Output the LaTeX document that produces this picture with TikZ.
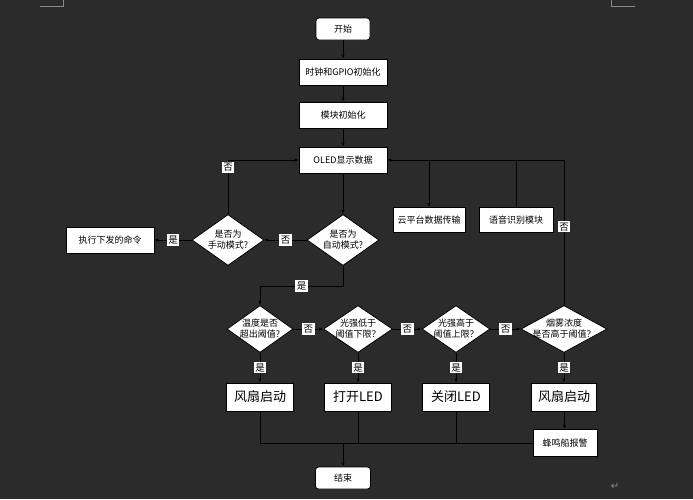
\documentclass[tikz,border=0pt]{standalone}
\usepackage{fontspec}
\setmainfont{Noto Sans CJK SC}
\newfontfamily\symfont{DejaVu Sans}
\usepackage{tikz}
\usetikzlibrary{shapes.geometric}
\usetikzlibrary{arrows.meta}
\usepackage{xcolor}
\definecolor{pagebg}{HTML}{2B2B2B}
\definecolor{markgray}{HTML}{8C8C8C}

\begin{document}
\begin{tikzpicture}[x=1pt,y=-1pt,
    every node/.style={font=\fontsize{9}{11}\selectfont},
    box/.style={draw=black, fill=white, line width=0.8pt, minimum width=88pt, minimum height=26pt, inner sep=1pt},
    term/.style={box, rounded corners=3pt, minimum width=54pt, minimum height=22pt},
    act/.style={box, minimum width=67pt, minimum height=28pt, font=\fontsize{13}{15}\selectfont},
    dia/.style={diamond, draw=black, fill=white, line width=0.8pt, inner sep=0pt},
    yn/.style={fill=white, inner sep=1.5pt, font=\fontsize{9.5}{10}\selectfont},
    flow/.style={draw=black, line width=0.8pt},
    >={Latex[length=4pt,width=3.5pt]}]
    \useasboundingbox (0,0) rectangle (693,499);
    \fill[pagebg] (0,0) rectangle (693,499);
    \draw[markgray, line width=0.8pt] (40,6) -- (63,6) -- (63,0);
    \draw[markgray, line width=0.8pt] (611,0) -- (611,6) -- (635,6);
    \node[text=markgray, font=\symfont\fontsize{10}{10}\selectfont] (ret) at (615,486) {↵};

    % main column
    \node[term] (start) at (343,29) {开始};
    \node[box] (clock) at (343,72) {时钟和GPIO初始化};
    \node[box] (module) at (343,115) {模块初始化};
    \node[box] (oled) at (343,160) {OLED显示数据};
    \node[box, minimum width=72pt, minimum height=25pt] (cloud) at (429,220) {云平台数据传输};
    \node[box, minimum width=74pt, minimum height=25pt] (voice) at (516,220) {语音识别模块};

    % mode checks
    \node[dia, minimum width=72pt, minimum height=51pt, label={[align=center]center:是否为\\自动模式?}] (auto) at (343,240) {};
    \node[dia, minimum width=72pt, minimum height=51pt, label={[align=center]center:是否为\\手动模式?}] (manual) at (228,240) {};
    \node[box] (exec) at (110,240) {执行下发的命令};

    % sensor checks
    \node[dia, minimum width=66pt, minimum height=47pt, label={[align=center]center:温度是否\\超出阈值?}] (temp) at (260,329) {};
    \node[dia, minimum width=69pt, minimum height=47pt, label={[align=center]center:光强低于\\阈值下限？}] (low) at (358,329) {};
    \node[dia, minimum width=68pt, minimum height=47pt, label={[align=center]center:光强高于\\阈值上限？}] (high) at (456,329) {};
    \node[dia, minimum width=86pt, minimum height=47pt, label={[align=center]center:烟雾浓度\\是否高于阈值？}] (smoke) at (564,329) {};

    \node[act] (fan1) at (260,397) {风扇启动};
    \node[act] (ledon) at (358,397) {打开LED};
    \node[act] (ledoff) at (456,397) {关闭LED};
    \node[act, minimum width=65pt] (fan2) at (564,397) {风扇启动};
    \node[box, minimum width=64pt, minimum height=27pt] (buzzer) at (565,443) {蜂鸣船报警};
    \node[term, minimum width=55pt] (end) at (343,478) {结束};

    \draw[flow,->] (start) -- (clock);
    \draw[flow,->] (clock) -- (module);
    \draw[flow,->] (module) -- (oled);
    \draw[flow,->] (oled) -- (auto);
    \draw[flow,->] (oled.east -| cloud.north) -- (cloud.north);
    \draw[flow] (voice.north) -- (voice.north |- oled.east);
    \draw[flow,->] (auto) -- node[yn]{否} (manual);
    \draw[flow,->] (manual) -- node[yn]{是} (exec);
    \draw[flow,->] (manual.north) |- node[yn,pos=0.43]{否} (oled.west);
    \draw[flow,->] (auto.south) -- ++(0,20) -| node[yn,pos=0.25]{是} (temp.north);
    \draw[flow,->] (temp) -- node[yn]{否} (low);
    \draw[flow,->] (low) -- node[yn]{否} (high);
    \draw[flow,->] (high) -- node[yn]{否} (smoke);
    \draw[flow,->] (smoke.north) |- node[yn,pos=0.27]{否} (oled.east);
    \foreach \d/\a in {temp/fan1, low/ledon, high/ledoff, smoke/fan2}
      \draw[flow,->] (\d) -- node[yn]{是} (\a);
    \draw[flow,->] (fan2) -- (buzzer);
    \draw[flow] (buzzer.west) -| (fan1.south);
    \foreach \a in {ledon, ledoff}
      \draw[flow] (\a.south) -- (\a.south |- buzzer.west);
    \draw[flow,->] (end.north |- buzzer.west) -- (end.north);
\end{tikzpicture}
\end{document}
